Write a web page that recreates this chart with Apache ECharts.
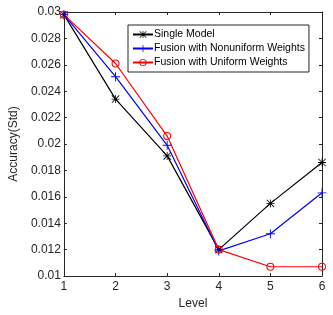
<!DOCTYPE html>
<html>
<head>
<meta charset="utf-8">
<script src="https://cdn.jsdelivr.net/npm/echarts@6/dist/echarts.min.js"></script>
<style>html,body{margin:0;padding:0;background:#fff;}#c{width:333px;height:315px;}</style>
</head>
<body>
<div id="c"></div>
<script>
var levels = [1, 2, 3, 4, 5, 6];
var singleModel = [0.0298, 0.0234, 0.0191, 0.0120, 0.0155, 0.0186];
var nonuniform = [0.0298, 0.0251, 0.0199, 0.0119, 0.0132, 0.0163];
var uniform = [0.0298, 0.0261, 0.0206, 0.0120, 0.0107, 0.0107];
var seriesNames = ['Single Model', 'Fusion with Nonuniform Weights', 'Fusion with Uniform Weights'];

function pairs(vals) { return levels.map(function (l, i) { return [l, vals[i]]; }); }

var AX = '#262626';
var FONT = 'Liberation Sans';
var plusPath = 'path://M4.5,0H5.5V4.5H10V5.5H5.5V10H4.5V5.5H0V4.5H4.5Z';
var starPath = 'path://M4.5,0H5.5V10H4.5Z M0,4.5H10V5.5H0Z M0.7,0L10,9.3L9.3,10L0,0.7Z M9.3,0L10,0.7L0.7,10L0,9.3Z';
var ringPath = 'path://M0,5A5,5 0 1,0 10,5A5,5 0 1,0 0,5Z M1.3,5A3.7,3.7 0 1,1 8.7,5A3.7,3.7 0 1,1 1.3,5Z';

var chart = echarts.init(document.getElementById('c'), null, {renderer: 'canvas'});
var tickStyle = {show: true, inside: true, length: 3, lineStyle: {color: AX, width: 1}};
chart.setOption({
  animation: false,
  backgroundColor: '#fff',
  grid: {left: 53, right: 11, top: 12, bottom: 37, containLabel: false},
  legend: {
    orient: 'vertical', left: 128, top: 25,
    backgroundColor: '#fff', borderColor: AX, borderWidth: 1,
    padding: [4, 4, 4, 4], itemGap: 3, itemWidth: 20, itemHeight: 9,
    textStyle: {fontFamily: FONT, fontSize: 10.5, color: '#000', padding: [0, 0, 0, -4]},
    data: seriesNames
  },
  xAxis: [{
    type: 'value', min: 1, max: 6, interval: 1,
    name: 'Level', nameLocation: 'middle', nameGap: 22,
    nameTextStyle: {fontFamily: FONT, fontSize: 12, color: AX},
    axisLine: {show: true, lineStyle: {color: AX, width: 1}},
    axisTick: tickStyle,
    axisLabel: {fontFamily: FONT, fontSize: 12, color: AX, margin: 5},
    splitLine: {show: false}
  }, {
    type: 'value', min: 1, max: 6, interval: 1, position: 'top',
    axisLine: {show: true, onZero: false, lineStyle: {color: AX, width: 1}},
    axisTick: tickStyle, axisLabel: {show: false}, splitLine: {show: false}
  }],
  yAxis: [{
    type: 'value', min: 0.01, max: 0.03, interval: 0.002,
    name: 'Accuracy(Std)', nameLocation: 'middle', nameGap: 38,
    nameTextStyle: {fontFamily: FONT, fontSize: 12, color: AX},
    axisLine: {show: true, onZero: false, lineStyle: {color: AX, width: 1}},
    axisTick: tickStyle,
    axisLabel: {fontFamily: FONT, fontSize: 12, color: AX, margin: 3,
      formatter: function (v) { return String(+v.toFixed(4)); }},
    splitLine: {show: false}
  }, {
    type: 'value', min: 0.01, max: 0.03, interval: 0.002, position: 'right',
    axisLine: {show: true, onZero: false, lineStyle: {color: AX, width: 1}},
    axisTick: tickStyle, axisLabel: {show: false}, splitLine: {show: false}
  }],
  series: [{
    name: seriesNames[0], type: 'line', data: pairs(singleModel),
    symbol: starPath, symbolSize: 8,
    lineStyle: {color: '#000', width: 1.2}, itemStyle: {color: '#000'}
  }, {
    name: seriesNames[1], type: 'line', data: pairs(nonuniform),
    symbol: plusPath, symbolSize: 9,
    lineStyle: {color: '#0000ff', width: 1.2}, itemStyle: {color: '#0000ff'}
  }, {
    name: seriesNames[2], type: 'line', data: pairs(uniform),
    symbol: ringPath, symbolSize: 8,
    lineStyle: {color: '#ff0000', width: 1.2}, itemStyle: {color: '#ff0000'}
  }]
});
</script>
</body>
</html>
